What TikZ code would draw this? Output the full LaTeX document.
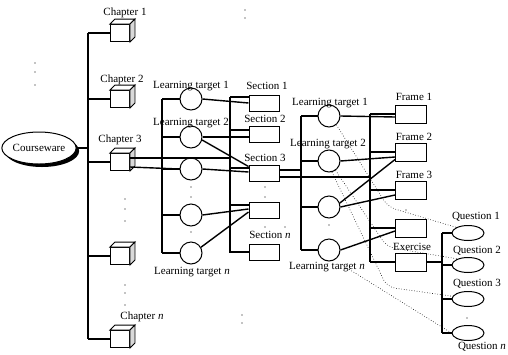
\documentclass[tikz,border=0pt]{standalone}
\usepackage{fontspec}
\setmainfont{Liberation Serif}
\usetikzlibrary{positioning, calc, shapes.geometric, shadows}

\begin{document}
\begin{tikzpicture}[x=1pt, y=-1pt, line width=1.4pt,
    every node/.style={font=\fontsize{11}{12}\selectfont},
    lbl/.style={inner sep=0pt},
    course/.style={draw, line width=1pt, ellipse, fill=white, minimum width=58pt, minimum height=32pt, inner sep=0pt,
      drop shadow={shadow xshift=3pt, shadow yshift=-3pt, fill=black, opacity=1}},
    cube/.style={draw, line width=0.9pt, fill=white, minimum width=19pt, minimum height=17pt, inner sep=0pt},
    target/.style={draw, line width=1pt, circle, minimum size=22pt, inner sep=0pt},
    unit/.style={draw, line width=1pt, minimum width=30pt, minimum height=16pt, inner sep=0pt},
    frm/.style={unit, minimum width=31pt, minimum height=18pt},
    quest/.style={draw, line width=1pt, ellipse, minimum width=32pt, minimum height=15pt, inner sep=0pt},
    hint/.style={line width=0.6pt, dotted, rounded corners=8pt},
    speck/.style={fill, circle, inner sep=0.6pt}]
  \useasboundingbox (0,0) rectangle (508,354);

  % --- Courseware and chapters ---
  \node[course] (cw) at (39,148) {Courseware};
  \node[cube] (ch1) at (120,33) {};
  \node[cube] (ch2) at (120,99) {};
  \node[cube] (ch3) at (120,162) {};
  \node[cube] (ch4) at (120,256) {};
  \node[cube] (chn) at (120,339) {};
  \foreach \c in {ch1,ch2,ch3,ch4,chn}{
    \filldraw[line width=0.9pt, fill=white] (\c.north west) -- ++(5,-5) -- ($(\c.north east)+(5,-5)$) -- (\c.north east) -- cycle;
    \filldraw[line width=0.9pt, fill=gray!30] (\c.north east) -- ++(5,-5) -- ($(\c.south east)+(5,-5)$) -- (\c.south east) -- cycle;
  }
  \node[lbl] (chl1) at (125,13) {Chapter 1};
  \node[lbl] (chl2) at (122,80) {Chapter 2};
  \node[lbl] (chl3) at (120,140) {Chapter 3};
  \node[lbl] (chln) at (142,317) {Chapter \textit{n}};

  \coordinate (chbus) at (88,148);
  \draw (cw) -- (chbus);
  \draw (chbus |- ch1) -- (chbus |- chn);
  \foreach \c in {ch1,ch2,ch3,ch4,chn}
    \draw (chbus |- \c) -- (\c.west);

  % --- Learning targets and sections of chapter 3 ---
  \node[target] (ta1) at (191,99) {};
  \node[target] (ta2) at (191,137) {};
  \node[target] (ta3) at (191,169) {};
  \node[target] (ta4) at (191,215) {};
  \node[target] (tan) at (191,253) {};
  \node[lbl] (tal1) at (191,86) {Learning target 1};
  \node[lbl] (tal2) at (191,123) {Learning target 2};
  \node[lbl] (taln) at (192,272) {Learning target \textit{n}};

  \node[unit] (s1) at (264,103) {};
  \node[unit] (s2) at (264,134) {};
  \node[unit] (s3) at (264,173) {};
  \node[unit] (s4) at (264,210) {};
  \node[unit] (sn) at (264,252) {};
  \node[lbl] (sl1) at (267,86) {Section 1};
  \node[lbl] (sl2) at (265,119) {Section 2};
  \node[lbl] (sl3) at (265,158) {Section 3};
  \node[lbl] (sln) at (270,235) {Section \textit{n}};

  \coordinate (tbusA) at (162,0);
  \draw (tbusA |- ta1) -- (tbusA |- tan);
  \foreach \t in {ta1,ta2,ta3,ta4,tan}
    \draw (tbusA |- \t) -- (\t.west);

  \coordinate (sbusA) at (230,0);
  \draw ($(sbusA |- s1)+(0,-6)$) -- (sbusA |- sn) -- (sn.west);
  \draw ($(sbusA |- s1)+(0,-6)$) -- ($(s1.west)+(0,-6)$);
  \draw ($(sbusA |- s2)+(0,-4)$) -- ($(s2.west)+(0,-4)$);
  \draw ($(sbusA |- s3)+(0,-5)$) -- ($(s3.west)+(0,-5)$);
  \draw ($(sbusA |- s4)+(0,-5)$) -- ($(s4.west)+(0,-5)$);

  \draw ($(ch3.east)+(0,-4)$) -- ($(sbusA |- ch3)+(0,-4)$);
  \draw ($(ch3.east)+(0,5)$) -- (ta3.west);
  \draw (ta3.east) -- ($(s3.west)+(0,-1)$);

  \draw (ta1.east) -- (s1.west);
  \draw (ta2.east) -- ($(s2.west)+(0,3)$);
  \draw (ta2.-15) -- ($(s3.north west)+(0,2)$);
  \draw (ta4.east) -- ($(s4.west)+(0,-1)$);
  \draw (tan.30) -- ($(s4.west)+(0,2)$);

  % --- Learning targets and frames of section 3 ---
  \node[target] (tb1) at (329,116) {};
  \node[target] (tb2) at (329,161) {};
  \node[target] (tb3) at (329,207) {};
  \node[target] (tbn) at (329,250) {};
  \node[lbl] (tbl1) at (330,103) {Learning target 1};
  \node[lbl] (tbl2) at (328,144) {Learning target 2};
  \node[lbl] (tbln) at (327,267) {Learning target \textit{n}};

  \node[frm] (f1) at (411,114) {};
  \node[frm] (f2) at (411,152) {};
  \node[frm] (f3) at (411,190) {};
  \node[frm] (f4) at (411,228) {};
  \node[frm] (ex) at (411,262) {};
  \node[lbl] (fl1) at (414,97) {Frame 1};
  \node[lbl] (fl2) at (414,137) {Frame 2};
  \node[lbl] (fl3) at (414,175) {Frame 3};
  \node[lbl] (exl) at (412,247) {Exercise};

  \coordinate (tbusB) at (301,0);
  \draw (tbusB |- tb1) -- (tbusB |- tbn);
  \foreach \t in {tb1,tb2,tb3,tbn}
    \draw (tbusB |- \t) -- (\t.west);

  \coordinate (fbus) at (370,0);
  \draw (fbus |- f1) -- (fbus |- ex);
  \foreach \f in {f1,f2,f3,f4,ex}
    \draw (fbus |- \f) -- (\f.west);

  \draw ($(s3.east)+(0,-3)$) -- ($(tbusB |- s3)+(0,-3)$);
  \draw ($(s3.east)+(0,4)$) -- ($(fbus |- s3)+(0,4)$);

  \draw (tb1.east) -- ($(f1.west)+(0,3)$);
  \draw (tb2.east) -- ($(f2.west)+(0,5)$);
  \draw (tb3.20) -- ($(f2.south west)+(0,-2)$);
  \draw (tb3.east) -- ($(f3.west)+(0,5)$);
  \draw (tbn.east) -- ($(f4.west)+(0,3)$);

  % --- Questions of the exercise ---
  \node[quest] (q1) at (468,233) {};
  \node[quest] (q2) at (468,265) {};
  \node[quest] (q3) at (468,299) {};
  \node[quest] (qn) at (468,333) {};
  \node[lbl] (ql1) at (476,217) {Question 1};
  \node[lbl] (ql2) at (477,251) {Question 2};
  \node[lbl] (ql3) at (477,284) {Question 3};
  \node[lbl] (qln) at (482,347) {Question \textit{n}};

  \coordinate (qbus) at (442,0);
  \draw (qbus |- q1) -- (qbus |- qn);
  \foreach \q in {q1,q2,q3,qn}
    \draw (qbus |- \q) -- (\q.west);
  \draw (ex.east) -- (qbus |- ex);

  % --- dotted links from targets to questions ---
  \coordinate (h1) at (388,207);
  \coordinate (h2) at (387,247);
  \coordinate (h3) at (387,287);
  \coordinate (h4) at (347,268);
  \draw[hint] (tb1.-50) -- (h1) -- (q1.north west);
  \draw[hint] (tb2.-55) -- (h2) -- (q2.150);
  \draw[hint] (tb2.-75) -- (h3) -- (q3.170);
  \draw[hint] (h4) -- (qn.west);

  % --- dots ---
  \foreach \p in {(35,63),(35,72),(35,85),(125,199),(125,209),(125,221),
                  (125,285),(125,293),(125,305),(191,187),(191,197),(191,232),
                  (265,187),(265,197),(265,227),(285,227),(329,225),(406,210),
                  (467,318),(245,10),(245,18),(242,315),(242,323)}
    \node[speck, inner sep=0.45pt] at \p {};
\end{tikzpicture}
\end{document}
